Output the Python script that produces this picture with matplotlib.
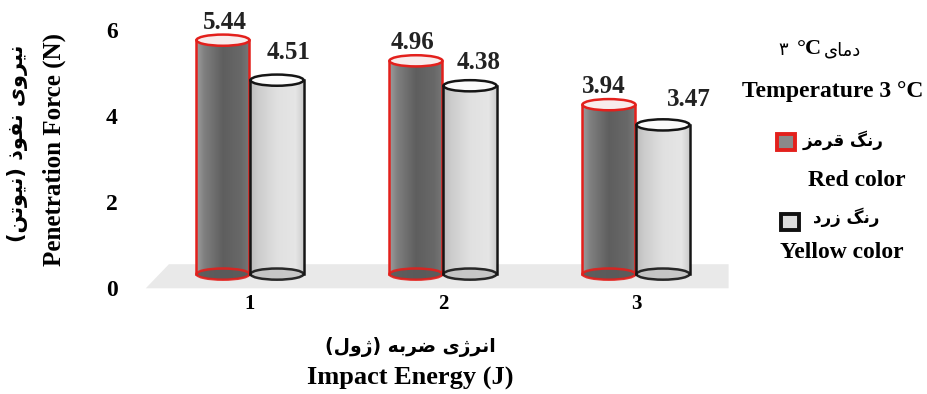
import matplotlib.pyplot as plt
import numpy as np
from matplotlib.patches import Ellipse, Polygon, Rectangle, PathPatch
from matplotlib.path import Path

# penetration force (N) for each impact energy (J)
energy = [1, 2, 3]
red_force = [5.44, 4.96, 3.94]
yellow_force = [4.51, 4.38, 3.47]
y_ticks = [0, 2, 4, 6]

# Persian strings, written in visual order with shaped letter forms
fa_ylabel = '(\ufee6\ufe97\ufeee\ufbff\ufee7) \ufeab\ufeee\ufed4\ufee7 \ufbfc\ufeed\ufeae\ufbff\ufee7'
fa_xlabel = '(\ufedd\ufeed\ufb8a) \ufeea\ufe91\ufeae\ufebf \ufbfc\ufb8a\ufeae\ufee7\ufe8d'
fa_temp = '\ufbfc\ufe8e\ufee3\ufea9'
fa_red = '\ufeb0\ufee3\ufeae\ufed7 \ufb93\ufee7\ufead'
fa_yellow = '\ufea9\ufead\ufeaf \ufb93\ufee7\ufead'

serif = 'Liberation Serif'
arab = 'DejaVu Sans'
W, H = 928, 394

fig = plt.figure(figsize=(W / 100, H / 100), dpi=100)
ax = fig.add_axes([0.1134, 0.2563, 0.6759, 0.7356])
for s in ax.spines.values():
    s.set_visible(False)

bar_w = 0.275
ell_h = 0.26
shift = 0.14

# grey floor the cylinders stand on
ax.add_patch(Polygon([(0.46, -0.33), (0.58, 0.23), (3.48, 0.23), (3.48, -0.33)],
                     closed=True, fc='#e9e9e9', ec='none', zorder=0))


def cylinder(xc, h, levels, edge, top_fc, base_fc):
    x0, x1 = xc - bar_w / 2, xc + bar_w / 2
    t = np.linspace(np.pi, 2 * np.pi, 40)
    arc = np.column_stack([xc + bar_w / 2 * np.cos(t), ell_h / 2 * np.sin(t)])
    verts = np.vstack([[x0, h], arc, [x1, h], [x0, h]])
    body = PathPatch(Path(verts), fc='none', ec='none')
    ax.add_patch(body)
    col = np.interp(np.linspace(0, 1, 80), [0, 0.15, 0.5, 0.85, 1], levels)
    img = np.repeat(col[None, :, None], 3, axis=2)
    im = ax.imshow(img, extent=[x0, x1, -ell_h / 2, h], aspect='auto',
                   interpolation='bilinear', zorder=2)
    im.set_clip_path(body)
    ax.add_patch(Ellipse((xc, 0), bar_w, ell_h, fc=base_fc, ec=edge, lw=1.8, alpha=0.9, zorder=3))
    ax.plot([x0, x0], [0, h], color=edge, lw=1.8, zorder=3)
    ax.plot([x1, x1], [0, h], color=edge, lw=1.8, zorder=3)
    ax.add_patch(Ellipse((xc, h), bar_w, ell_h, fc=top_fc, ec=edge, lw=1.8, zorder=4))


red_levels = [0.62, 0.50, 0.37, 0.41, 0.47]
yellow_levels = [0.74, 0.80, 0.88, 0.90, 0.80]
red_offsets = [(2, 18), (-3, 18), (-5, 18)]
yellow_offsets = [(12, 28), (9, 23), (26, 25)]

for i, e in enumerate(energy):
    cylinder(e - shift, red_force[i], red_levels, '#e3201c', '#f8ecec', '#5a5a5a')
    cylinder(e + shift, yellow_force[i], yellow_levels, '#151515', '#fbfbfb', '#c4c4c4')
    ax.annotate(f'{red_force[i]:.2f}', xy=(e - shift, red_force[i]),
                xytext=red_offsets[i], textcoords='offset pixels',
                ha='center', va='center', family=serif, weight='bold', size=18, color='#222')
    arrow = dict(arrowstyle='-', color='#888888', lw=0.8, shrinkA=6, shrinkB=0) if i == 2 else None
    ax.annotate(f'{yellow_force[i]:.2f}', xy=(e + shift, yellow_force[i]),
                xytext=yellow_offsets[i], textcoords='offset pixels',
                ha='center', va='center', family=serif, weight='bold', size=18, color='#222',
                arrowprops=arrow)

ax.set_xlim(0.25, 3.5)
ax.set_ylim(-0.44, 6.3)

ax.set_xticks(energy)
ax.set_xticklabels([str(e) for e in energy], family=serif, weight='bold', size=15)
ax.tick_params(axis='x', length=0, pad=1)
ax.set_yticks([])

# value axis sits a little below the floor line
sec = ax.secondary_yaxis(0.02, functions=(lambda y: y + 0.32, lambda y: y - 0.32))
sec.set_yticks(y_ticks)
sec.set_yticklabels([str(v) for v in y_ticks], family=serif, weight='bold', size=17)
sec.tick_params(length=0, pad=0)
sec.spines['left'].set_visible(False)


def ftext(px, py, s, **kw):
    fig.text(px / W, 1 - py / H, s, ha='center', va='center', **kw)


ftext(18, 143, fa_ylabel, rotation=90, family=arab, weight='bold', size=15)
ftext(54, 150, 'Penetration Force (N)', rotation=90, family=serif, weight='bold', size=18)
ftext(410, 347, fa_xlabel, family=arab, weight='bold', size=13.5)
ftext(410, 378, 'Impact Energy (J)', family=serif, weight='bold', size=19)

# legend
ftext(783, 50, '\u06f3', family=arab, size=13)
ftext(809, 49, '°C', family=serif, weight='bold', size=16)
ftext(843, 51, fa_temp, family=arab, size=13)
ftext(833, 92, 'Temperature 3 °C', family=serif, weight='bold', size=17)

fig.add_artist(Rectangle(((786 - 9) / W, 1 - (142 + 8) / H), 18 / W, 16 / H,
                         transform=fig.transFigure, fc='#8a8a8a', ec='#e3201c', lw=2.8))
ftext(843, 140, fa_red, family=arab, weight='bold', size=12)
ftext(857, 180, 'Red color', family=serif, weight='bold', size=17)

fig.add_artist(Rectangle(((790 - 9) / W, 1 - (222 + 8) / H), 18 / W, 16 / H,
                         transform=fig.transFigure, fc='#dcdcdc', ec='#111111', lw=2.8))
ftext(846, 217, fa_yellow, family=arab, weight='bold', size=12)
ftext(842, 253, 'Yellow color', family=serif, weight='bold', size=17)

fig.savefig('out.png', dpi=100, facecolor='white')
